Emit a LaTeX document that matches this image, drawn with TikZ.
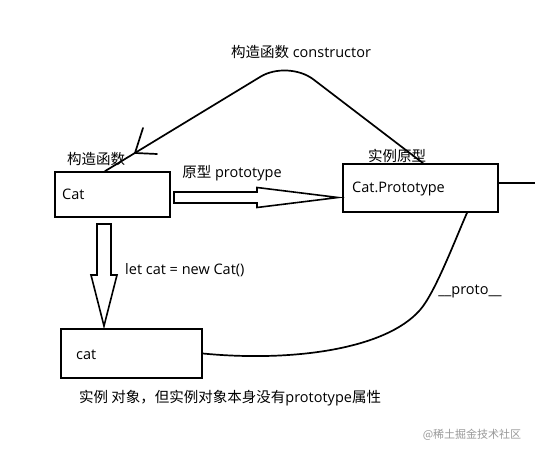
\documentclass[tikz,border=0pt]{standalone}
\usepackage{fontspec}
\setmainfont{Open Sans}
\newfontfamily\cjk{Noto Sans CJK SC}
\usetikzlibrary{calc}
\tikzset{
  box/.style={draw, line width=1.7pt, inner sep=0pt, rectangle},
  txt/.style={inner sep=0pt, font=\fontsize{14.5}{16}\selectfont},
  wire/.style={line width=1.7pt, line join=round, line cap=round},
  hollow/.style={draw, line width=1.6pt, line join=miter, fill=white},
}
\newcommand{\zh}[1]{{\cjk\fontsize{14.5}{16}\selectfont #1}}
\begin{document}
\begin{tikzpicture}[x=1pt, y=-1pt]
\useasboundingbox[fill=white] (0,0) rectangle (535,454);

% boxes
\node[box, minimum width=115pt, minimum height=45pt] (catbox) at (112.5,194.5) {};
\node[box, minimum width=155pt, minimum height=48pt] (protobox) at (420.5,188) {};
\node[box, minimum width=141pt, minimum height=49pt] (catinst) at (131.5,353.5) {};

% box texts
\node[txt, anchor=west] (catlbl) at (62,194) {Cat};
\node[txt, anchor=west] (protolbl) at (352,189) {Cat.Prototype};
\node[txt, anchor=west] (instlbl) at (76,355) {cat};

% labels
\node[txt] (ctorlbl) at (301,52) {\zh{构造函数} constructor};
\node[txt] (ctorname) at (96,159) {\zh{构造函数}};
\node[txt] (protoname) at (397,156) {\zh{实例原型}};
\node[txt] (prototypelbl) at (232,173) {\zh{原型} prototype};
\node[txt, anchor=west] (newlbl) at (125,270) {let cat = new Cat()};
\node[txt] (dunderlbl) at (470,291) {\_\_proto\_\_};
\node[txt, anchor=west] (instnote) at (79,398) {\zh{实例 对象，但实例对象本身没有}prototype\zh{属性}};
\node[inner sep=0pt, font=\cjk\fontsize{11}{13}\selectfont, text=black!40] (wm) at (472,435) {@稀土掘金技术社区};

% hollow arrow: Cat -> Cat.Prototype
\draw[hollow] (174,192) -- (257,192) -- (257,187.5) -- (338,197.5) -- (257,207.5) -- (257,203) -- (174,203) -- cycle;

% hollow arrow: Cat -> cat
\draw[hollow] (97,224) -- (111,224) -- (111,275) -- (117,275) -- (104,326) -- (91,275) -- (97,275) -- cycle;

% constructor curve
\coordinate (ctorstart) at ($(protobox.north)+(2.5,0)$);
\coordinate (ctorend) at ($(catbox.north)+(-7.5,0)$);
\draw[wire, rounded corners=32pt] (ctorstart) -- (288,60) -- (ctorend);
\coordinate (tip) at (135,153);
\draw[wire] (tip) -- (143,128);
\draw[wire] (tip) -- (157,154);

% __proto__ curve
\coordinate (protoend) at ($(protobox.south)+(46.5,0)$);
\draw[wire] (catinst.east) .. controls (290,362) and (385,350) .. (420,310)
  .. controls (435,293) and (455,240) .. (protoend);

% line leaving Cat.Prototype to the right
\coordinate (rightedge) at (535,183);
\draw[wire, line cap=butt] ($(protobox.east)+(0,-5)$) -- (rightedge);
\end{tikzpicture}
\end{document}
